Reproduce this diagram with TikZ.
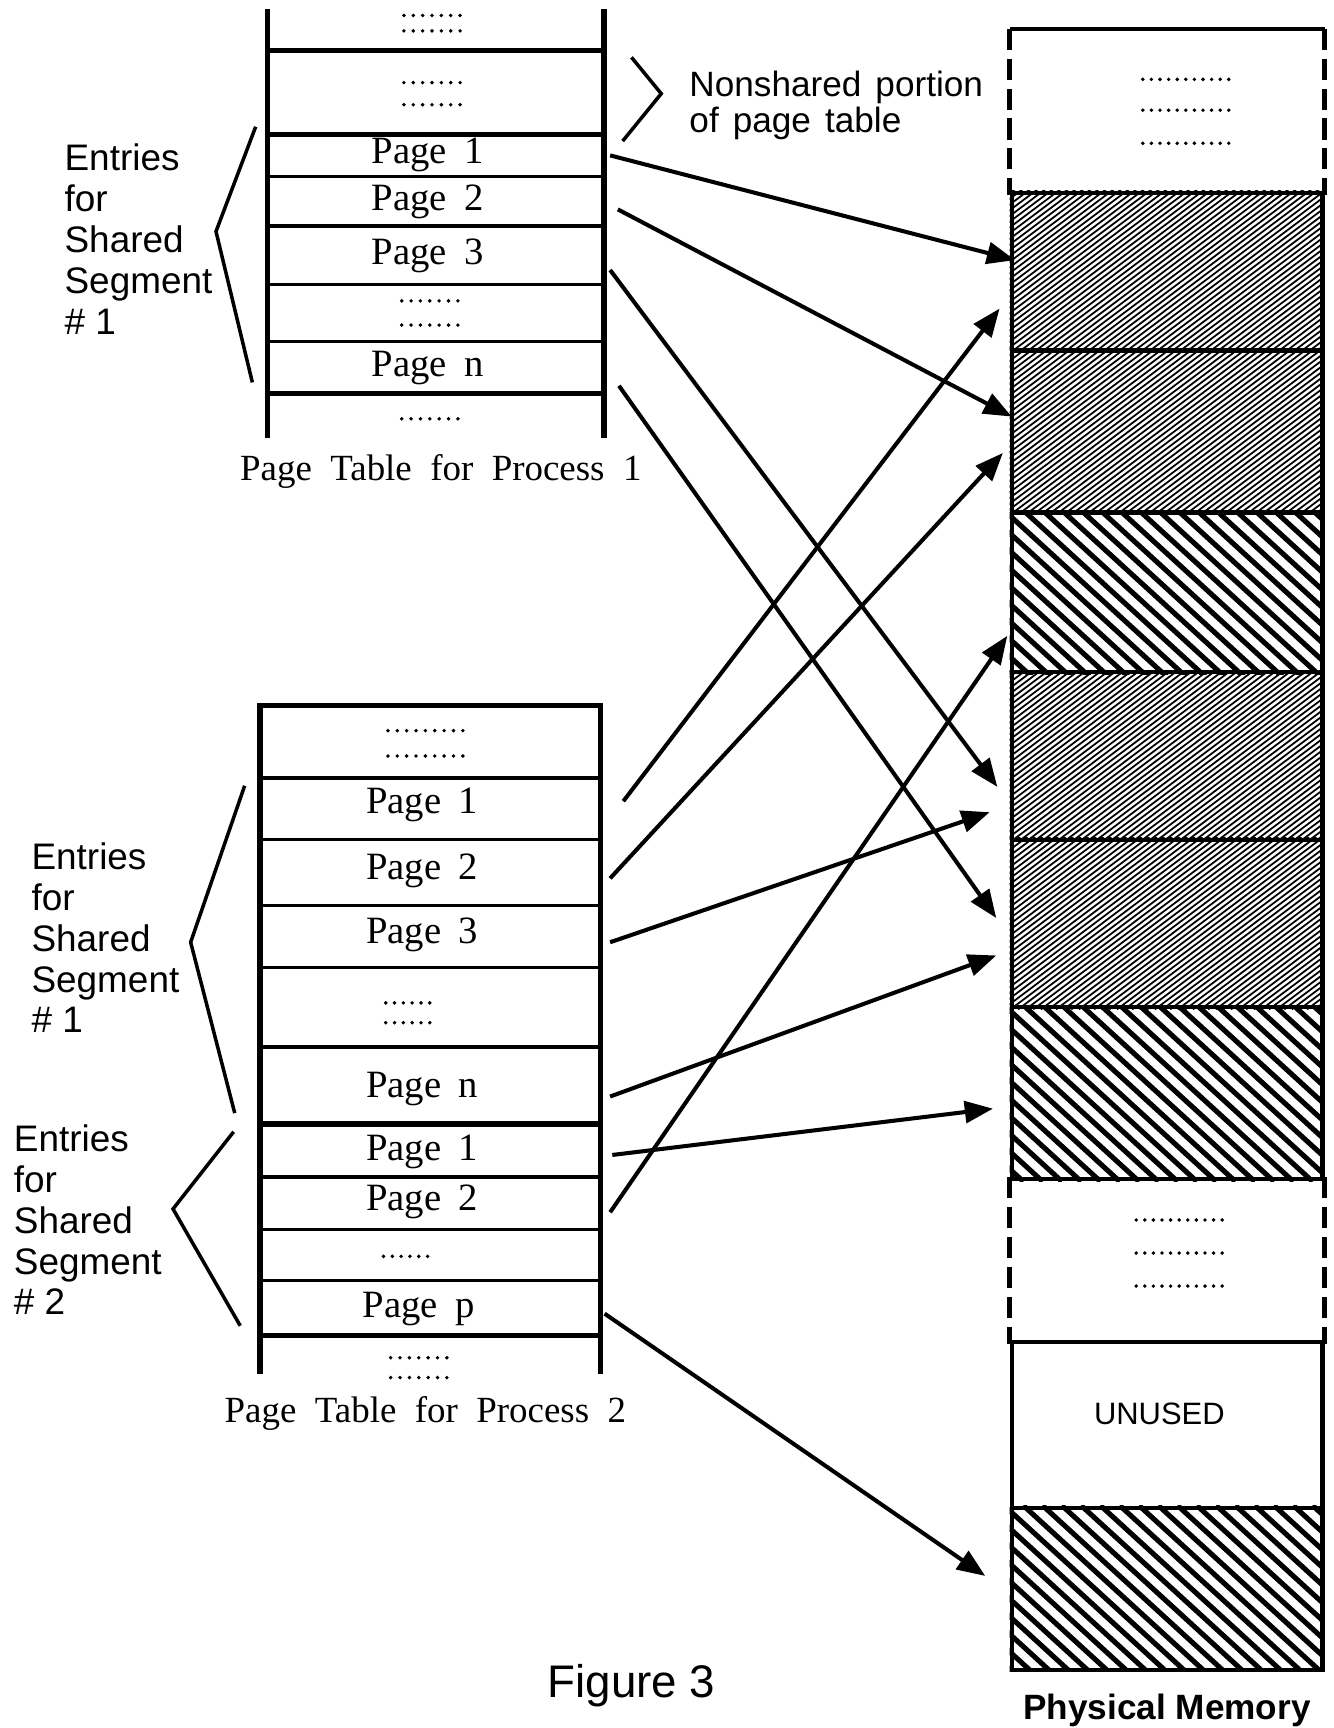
\documentclass[tikz,border=0pt]{standalone}
\usepackage{fontspec}
\setmainfont{Liberation Serif}
\setsansfont{Liberation Sans}
\usetikzlibrary{arrows.meta,calc}
\newcommand\widesp[1]{\spaceskip=#1\relax}

\begin{document}
\begin{tikzpicture}[
  x=0.011017cm, y=-0.011017cm,
  wall/.style={line width=1.5pt},
  rulethick/.style={line width=1.5pt},
  rulethin/.style={line width=0.9pt},
  entry/.style={font=\fontsize{11}{13}\selectfont, execute at begin node={\widesp{0.45em}}, inner sep=0pt},
  rowa/.style={entry, minimum width=3.481cm},
  rowb/.style={entry, minimum width=3.525cm},
  note/.style={font=\sffamily\fontsize{10.5}{11.6}\selectfont, align=left, inner sep=0pt, anchor=west},
  tcap/.style={font=\fontsize{10.5}{12}\selectfont, execute at begin node={\widesp{0.5em}}, inner sep=0pt},
  brace/.style={line width=1pt},
  ptr/.style={line width=1.15pt, -{Triangle[length=8pt,width=6.2pt]}},
  mem/.style={draw, line width=1.2pt, minimum width=3.107cm, inner sep=0pt},
  memspan/.style 2 args={minimum height={(#2-#1)*0.011017cm}, at={(1059,{(#1+#2)/2})}},
  memdash/.style={line width=1.2pt, dash pattern=on 6pt off 2.5pt},
  fine/.style={line width=0.5pt},
  coarse/.style={line width=1.45pt}
]
  \useasboundingbox (0,0) rectangle (1210,1568);

  % page table of process 1
  \draw[wall] (243,8) -- (243,397);
  \draw[wall] (548,8) -- (548,397);
  \foreach \y in {46,122,357} \draw[rulethick] (243,\y) -- (548,\y);
  \foreach \y in {160,205,258,310} \draw[rulethin] (243,\y) -- (548,\y);

  \node[rowa] (t1p1) at (388,141) {Page 1};
  \node[rowa] (t1p2) at (388,183) {Page 2};
  \node[rowa] (t1p3) at (388,232) {Page 3};
  \node[rowa] (t1pn) at (388,334) {Page n};
  \node[tcap] (cap1) at (400,428) {Page Table for Process 1};

  % page table of process 2
  \draw[wall] (236,1247) -- (236,640) -- (545,640) -- (545,1247);
  \foreach \y in {1020,1212} \draw[rulethick] (236,\y) -- (545,\y);
  \foreach \y in {706,762,822,878,950,1068,1116,1162} \draw[rulethin] (236,\y) -- (545,\y);

  \node[rowb] (t2p1) at (383,730) {Page 1};
  \node[rowb] (t2p2) at (383,790) {Page 2};
  \node[rowb] (t2p3) at (383,848) {Page 3};
  \node[rowb] (t2pn) at (383,988) {Page n};
  \node[rowb] (t2q1) at (383,1045) {Page 1};
  \node[rowb] (t2q2) at (383,1091) {Page 2};
  \node[rowb] (t2qp) at (380,1188) {Page p};
  \node[tcap] (cap2) at (386,1283) {Page Table for Process 2};

  % rows of dots (x, y, count, spacing)
  \foreach \x/\y/\n/\s in {392/14/7/8.5, 392/28/7/8.5, 392/75/7/8.5, 392/95/7/8.5,
      390/273/7/8.5, 390/295/7/8.5, 390/380/7/8.5,
      386/663/9/8.5, 386/686/9/8.5, 370/910/6/8, 370/928/6/8, 368/1140/6/8,
      380/1232/7/8.5, 380/1250/7/8.5,
      1076/72/11/7.8, 1076/100/11/7.8, 1076/130/11/7.8,
      1070/1107/11/7.8, 1070/1137/11/7.8, 1070/1167/11/7.8}
    \foreach \i in {1,...,\n}
      \fill ({\x+(\i-(\n+1)/2)*\s},\y) circle (0.55pt);

  % brackets and their notes
  \draw[brace] (232,115) -- (196,210) -- (229,347);
  \draw[brace] (573,52) -- (600,85) -- (565,128);
  \draw[brace] (222,713) -- (173,855) -- (213,1010);
  \draw[brace] (212,1027) -- (157,1097) -- (218,1203);
  \node[note] (seg1a) at (58,217) {Entries\\for\\Shared\\Segment\\\# 1};
  \node[note] (seg1b) at (28,851) {Entries\\for\\Shared\\Segment\\\# 1};
  \node[note] (seg2b) at (12,1107) {Entries\\for\\Shared\\Segment\\\# 2};
  \node[note, font=\sffamily\fontsize{10}{10.2}\selectfont, execute at begin node={\widesp{0.4em}}] (nonsh) at (625,96) {Nonshared portion\\of page table};

  % physical memory
  \node[mem, draw=none, memspan={28}{175}] (m0) {};
  \node[mem, memspan={175}{318}] (m1) {};
  \node[mem, memspan={318}{465}] (m2) {};
  \node[mem, memspan={465}{610}] (m3) {};
  \node[mem, memspan={610}{762}] (m4) {};
  \node[mem, memspan={762}{914}] (m5) {};
  \node[mem, memspan={914}{1070}] (m6) {};
  \node[mem, draw=none, memspan={1070}{1218}] (m7) {};
  \node[mem, memspan={1218}{1368}] (m8) {};
  \node[mem, memspan={1368}{1515}] (m9) {};
  \node[font=\sffamily\fontsize{8.8}{10}\selectfont] (unused) at (1052,1283) {UNUSED};

  \foreach \b in {m1,m2,m4,m5} {
    \begin{scope}
      \clip (\b.south west) rectangle (\b.north east);
      \foreach \k in {0,...,75}
        \draw[fine] ($(\b.south west)+({-220+6.9*\k},0)$) -- ++(213,-160);
    \end{scope}
  }
  \foreach \b in {m3,m6,m9} {
    \begin{scope}
      \clip (\b.south west) rectangle (\b.north east);
      \foreach \k in {0,...,27}
        \draw[coarse] ($(\b.north west)+({-180+17.5*\k},0)$) -- ++(175,160);
    \end{scope}
  }

  \draw[line width=1.2pt] (m0.north west) -- (m0.north east);
  \draw[memdash] (m0.north west) -- (m0.south west);
  \draw[memdash] (m0.north east) -- (m0.south east);
  \draw[memdash] (m7.north west) -- (m7.south west);
  \draw[memdash] (m7.north east) -- (m7.south east);

  % mapping arrows
  \coordinate (h1) at (921,236);
  \coordinate (h2) at (918,378);
  \coordinate (h3) at (905,714);
  \coordinate (h4) at (904,833);
  \coordinate (h5) at (907,280);
  \coordinate (h6) at (910,411);
  \coordinate (h7) at (898,737);
  \coordinate (h8) at (904,867);
  \coordinate (h9) at (901,1006);
  \coordinate (h10) at (914,577);
  \coordinate (h11) at (894,1430);

  \draw[ptr] ($(t1p1.east)+(7,0)$) -- (h1);
  \draw[ptr] ($(t1p2.east)+(14,7)$) -- (h2);
  \draw[ptr] ($(t1p3.east)+(7,13)$) -- (h3);
  \draw[ptr] ($(t1pn.east)+(15,16)$) -- (h4);
  \draw[ptr] ($(t2p1.east)+(22,-3)$) -- (h5);
  \draw[ptr] ($(t2p2.east)+(10,7)$) -- (h6);
  \draw[ptr] ($(t2p3.east)+(10,7)$) -- (h7);
  \draw[ptr] ($(t2pn.east)+(10,7)$) -- (h8);
  \draw[ptr] ($(t2q1.east)+(12,3)$) -- (h9);
  \draw[ptr] ($(t2q2.east)+(10,9)$) -- (h10);
  \draw[ptr] ($(t2qp.east)+(8,4)$) -- (h11);

  % captions
  \node[font=\sffamily\fontsize{13}{15}\selectfont] (fig) at (573,1530) {Figure 3};
  \node[font=\sffamily\bfseries\fontsize{10}{12}\selectfont] (pmcap) at (1059,1552) {Physical Memory};
\end{tikzpicture}
\end{document}
